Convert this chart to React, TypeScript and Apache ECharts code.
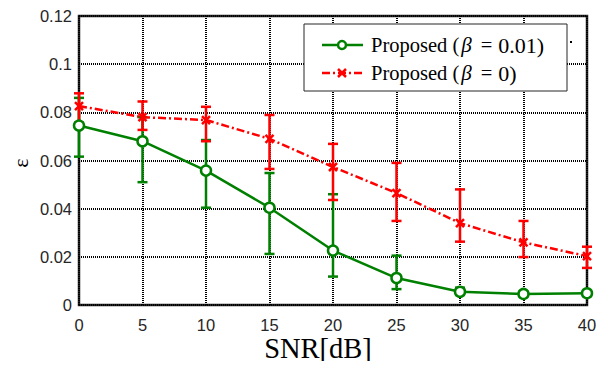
import React, { useEffect, useRef } from "react";
import * as echarts from "echarts";

const snr = [0, 5, 10, 15, 20, 25, 30, 35, 40];
const greenMean = [0.0745, 0.068, 0.0558, 0.0404, 0.0226, 0.0112, 0.0055, 0.0046, 0.0049];
const greenLow = [0.0616, 0.051, 0.0404, 0.0212, 0.0118, 0.0066, 0.0042, 0.0038, 0.0045];
const greenHigh = [0.086, 0.078, 0.0685, 0.0548, 0.046, 0.0205, 0.0072, 0.0055, 0.0053];
const redMean = [0.0826, 0.078, 0.0768, 0.069, 0.0573, 0.0465, 0.034, 0.026, 0.0203];
const redLow = [0.0757, 0.0727, 0.068, 0.0565, 0.0436, 0.0349, 0.0263, 0.0199, 0.0154];
const redHigh = [0.0879, 0.0845, 0.0823, 0.0789, 0.0669, 0.059, 0.048, 0.0349, 0.0242];
const yTicks = ["0", "0.02", "0.04", "0.06", "0.08", "0.1", "0.12"];
const legendPrefix = "Proposed (";
const legendBeta = "β";
const legendValues = ["0.01)", "0)"];
const xTitle = "SNR[dB]";
const yTitle = "ε";

const GREEN = "#008000";
const RED = "#ff0000";
const XSYM = "path://M0,0L10,10M10,0L0,10";

function errSeries(low: number[], high: number[], color: string) {
  return {
    type: "custom",
    data: snr.map((x, i) => [x, low[i], high[i]]),
    renderItem: (params: any, api: any) => {
      const x = api.value(0);
      const lo = api.coord([x, api.value(1)]);
      const hi = api.coord([x, api.value(2)]);
      const w = 5;
      const st = { stroke: color, lineWidth: 2.5 };
      return {
        type: "group",
        children: [
          { type: "line", shape: { x1: lo[0], y1: lo[1], x2: hi[0], y2: hi[1] }, style: st },
          { type: "line", shape: { x1: lo[0] - w, y1: lo[1], x2: lo[0] + w, y2: lo[1] }, style: st },
          { type: "line", shape: { x1: hi[0] - w, y1: hi[1], x2: hi[0] + w, y2: hi[1] }, style: st },
        ],
      };
    },
    z: 3,
    silent: true,
  };
}

export default function App() {
  const ref = useRef<HTMLDivElement>(null);
  useEffect(() => {
    if (!ref.current) return;
    const chart = echarts.init(ref.current, null, { renderer: "svg" });
    const tickFont = { color: "#262626", fontSize: 16.5, fontFamily: "Liberation Sans" };
    const rich = {
      a: { fontFamily: "Liberation Serif", fontSize: 20.5, color: "#000" },
      b: { fontFamily: "Liberation Serif", fontSize: 21, fontStyle: "italic", color: "#000", padding: [0, 3, 0, 2] },
      c: { fontFamily: "Liberation Serif", fontSize: 20.5, color: "#000", padding: [0, 6, 0, 6] },
      d: { fontFamily: "Liberation Serif", fontSize: 22, color: "#000" },
    };
    const legendText = (v: string) => `{a|${legendPrefix}}{b|${legendBeta}}{c|=}{d|${v}}`;
    const seriesName = (v: string) => `${legendPrefix}${legendBeta} = ${v}`;
    chart.setOption({
      animation: false,
      grid: {
        left: 79,
        right: 20,
        top: 16,
        bottom: 64,
        outerBoundsMode: "none",
        containLabel: false,
        show: true,
        borderColor: "#262626",
        borderWidth: 2.5,
        backgroundColor: "#fff",
      },
      xAxis: {
        type: "value",
        min: 0,
        max: 40,
        interval: 5,
        axisLine: { show: false },
        axisTick: { show: false },
        axisLabel: { ...tickFont, margin: 11 },
        splitLine: { show: true, lineStyle: { color: "#000", type: [1, 1], width: 2 } },
      },
      yAxis: {
        type: "value",
        min: 0,
        max: 0.12,
        interval: 0.02,
        axisLine: { show: false },
        axisTick: { show: false },
        axisLabel: {
          ...tickFont,
          margin: 7,
          formatter: (v: number) => yTicks[Math.round(v / 0.02)] ?? "",
        },
        splitLine: { show: true, lineStyle: { color: "#000", type: [1, 1], width: 2 } },
      },
      series: [
        errSeries(greenLow, greenHigh, GREEN),
        errSeries(redLow, redHigh, RED),
        {
          type: "line",
          name: seriesName(legendValues[0]),
          data: snr.map((x, i) => [x, greenMean[i]]),
          symbol: "circle",
          symbolSize: 10,
          showAllSymbol: true,
          lineStyle: { color: GREEN, width: 2.5 },
          itemStyle: { color: "#fff", borderColor: GREEN, borderWidth: 2.5 },
          z: 4,
        },
        {
          type: "line",
          name: seriesName(legendValues[1]),
          data: snr.map((x, i) => [x, redMean[i]]),
          symbol: XSYM,
          symbolSize: 8,
          showAllSymbol: true,
          lineStyle: { color: RED, width: 2.5, type: [8, 3, 2, 3] },
          itemStyle: { color: RED, borderColor: RED, borderWidth: 2.5 },
          z: 5,
        },
      ],
      graphic: [
        {
          type: "text",
          x: 318,
          y: 363,
          style: {
            text: xTitle,
            fontFamily: "Liberation Serif",
            fontSize: 28.5,
            fill: "#000",
            align: "center",
            verticalAlign: "bottom",
          },
          z: 12,
        },
        {
          type: "group",
          x: 20,
          y: 163,
          rotation: Math.PI / 2,
          z: 12,
          children: [
            {
              type: "text",
              x: 0,
              y: 0,
              style: {
                text: yTitle,
                fontFamily: "Liberation Serif",
                fontSize: 22,
                fill: "#000",
                align: "center",
                verticalAlign: "middle",
              },
            },
          ],
        },
        {
          type: "rect",
          shape: { x: 304, y: 24, width: 263, height: 67 },
          style: { fill: "#fff", stroke: "#262626", lineWidth: 1 },
          z: 10,
        },
        { type: "line", shape: { x1: 322, y1: 45, x2: 363, y2: 45 }, style: { stroke: GREEN, lineWidth: 2.5 }, z: 11 },
        { type: "circle", shape: { cx: 342, cy: 45, r: 4 }, style: { fill: "#fff", stroke: GREEN, lineWidth: 2.5 }, z: 12 },
        { type: "line", shape: { x1: 322, y1: 73, x2: 363, y2: 73 }, style: { stroke: RED, lineWidth: 2.5, lineDash: [8, 3, 2, 3] }, z: 11 },
        { type: "line", shape: { x1: 338, y1: 69, x2: 346, y2: 77 }, style: { stroke: RED, lineWidth: 2.5 }, z: 12 },
        { type: "line", shape: { x1: 346, y1: 69, x2: 338, y2: 77 }, style: { stroke: RED, lineWidth: 2.5 }, z: 12 },
        {
          type: "text",
          x: 371,
          y: 45,
          style: { text: legendText(legendValues[0]), rich, verticalAlign: "middle" },
          z: 12,
        },
        {
          type: "text",
          x: 371,
          y: 73,
          style: { text: legendText(legendValues[1]), rich, verticalAlign: "middle" },
          z: 12,
        },
        { type: "rect", shape: { x: 570, y: 41, width: 2, height: 2 }, style: { fill: "#000" }, z: 12 },
      ],
    });
    return () => chart.dispose();
  }, []);
  return <div ref={ref} style={{ width: 607, height: 369, margin: -8 }} />;
}
